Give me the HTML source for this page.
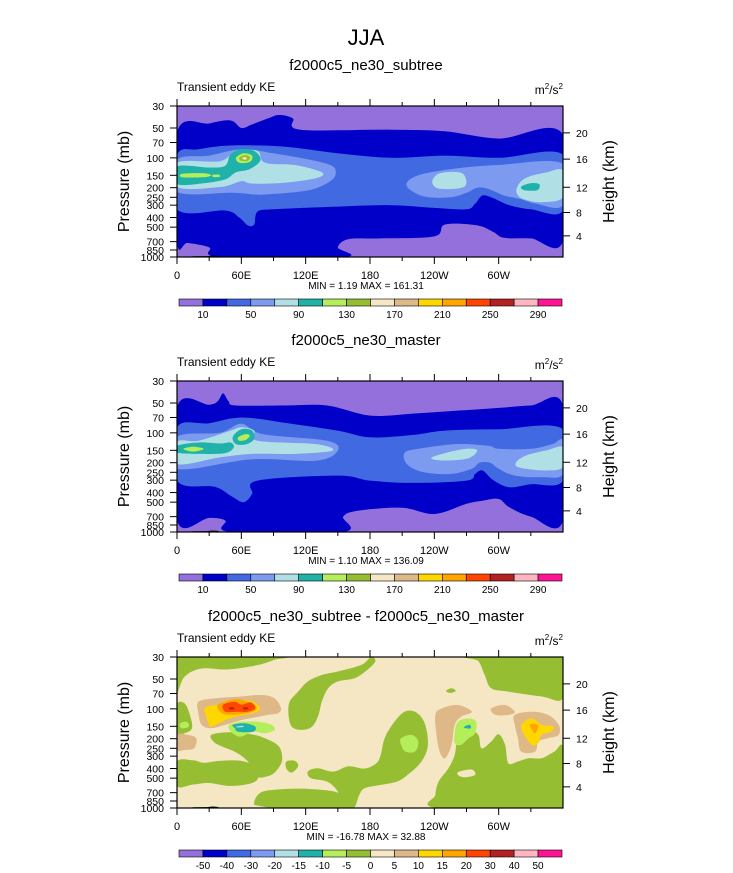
<!DOCTYPE html>
<html><head><meta charset="utf-8"><style>
html,body{margin:0;padding:0;background:#fff;}
svg{display:block;font-family:"Liberation Sans",Arial,sans-serif;}
</style></head><body>
<svg id="fig" width="733" height="873" viewBox="0 0 733 873" xmlns="http://www.w3.org/2000/svg">
<text x="366" y="45" font-size="22" text-anchor="middle">JJA</text>
</svg>
<script>
// ---------- data ----------
const colors=["#9370db","#0000c8","#4169e1","#7b9af0","#b0e0e6","#20b2aa","#b4ee5a","#96be32","#f5e6c4","#deb887","#ffd700","#ffa500","#ff4500","#b22222","#ffb6c1","#ff1493"];
const lonTicks=[0,60,120,180,240,300];
const lonLabels=["0","60E","120E","180","120W","60W"];
const lonMinor=[30,90,150,210,270,330];
const pTicks=[30,50,70,100,150,200,250,300,400,500,700,850,1000];
const hTickLabels=["4","8","12","16","20"];
const hTickP=[612,356,198,103,56];
const cbLabelsKE=["10","50","90","130","170","210","250","290"];
const cbLabelsDiff=["-50","-40","-30","-20","-15","-10","-5","0","5","10","15","20","30","40","50"];
const titles=["f2000c5_ne30_subtree","f2000c5_ne30_master","f2000c5_ne30_subtree - f2000c5_ne30_master"];
const minmax=["MIN =   1.19  MAX = 161.31","MIN =   1.10  MAX = 136.09","MIN = -16.78  MAX =  32.88"];

// panel 1 (subtree)
const p1Blue=[[0,55],[30,45],[50,42],[60,50],[70,46],[85,40],[95,37],[108,40],[115,52],[200,52],[250,54],[300,64],[360,58],[360,690],[330,650],[305,640],[295,560],[280,480],[250,470],[240,620],[190,650],[160,660],[150,800],[156,1000],[40,1000],[30,800],[10,720],[0,700]];
const p1Royal=[[0,94],[20,82],[50,75],[100,77],[150,90],[200,100],[250,95],[300,100],[360,93],[360,340],[330,330],[310,300],[295,255],[285,240],[278,290],[270,330],[240,320],[200,300],[150,310],[90,330],[75,350],[72,470],[66,480],[58,400],[45,340],[0,330]];
const p1CornL=[[0,105],[30,95],[60,82],[90,90],[140,115],[148,145],[140,180],[120,215],[80,235],[65,230],[50,225],[0,220]];
const p1CornR=[[214,190],[225,150],[260,128],[300,118],[360,115],[360,300],[335,290],[320,260],[305,240],[290,205],[280,200],[270,225],[255,250],[230,245]];
const p1CyanL=[[0,112],[40,108],[55,85],[75,85],[82,112],[110,118],[135,140],[130,160],[100,178],[70,182],[60,172],[40,197],[0,197]];
const p1CyanR1=[[238,175],[245,143],[266,143],[268,195],[245,205]];
const p1CyanR2=[[317,200],[325,160],[345,140],[360,135],[360,250],[340,280],[325,265],[318,240]];
const p1Teal=[[0,122],[30,125],[45,120],[50,92],[60,82],[72,85],[78,105],[68,130],[55,140],[45,165],[25,180],[0,183]];
const p1TealR=[[321,195],[330,180],[338,185],[336,212],[324,212]];
const p1Lg1=[[5,145],[25,143],[32,150],[25,157],[5,157]];
const p1Lg2=[[33,149],[39,148],[40,155],[34,156]];
const p1Lg3=[[55,100],[62,90],[70,95],[68,110],[58,112]];
const p1Olive=[[58,100],[63,94],[68,98],[66,107],[60,107]];
const p1Wheat=[[61,100],[64,98],[65,103],[62,104]];

// panel 2 (master)
const p2Blue=[[0,55],[30,52],[38,48],[43,40],[48,48],[55,53],[100,53],[140,53],[180,67],[220,64],[260,60],[300,56],[330,53],[360,53],[360,768],[330,700],[310,564],[300,465],[285,483],[270,520],[240,658],[210,570],[170,607],[155,700],[155,1000],[50,1000],[45,768],[30,720],[0,768]];
const p2Royal=[[0,88],[30,80],[60,70],[100,79],[150,95],[180,111],[220,105],[250,95],[300,92],[360,92],[360,303],[330,330],[310,354],[295,300],[285,240],[278,260],[270,303],[220,320],[180,303],[150,270],[75,303],[70,414],[62,500],[50,430],[35,350],[0,303]];
const p2CornL=[[0,110],[40,100],[60,81],[80,103],[140,120],[150,151],[130,191],[70,185],[0,230]];
const p2CornR=[[212,160],[225,145],[260,130],[290,135],[300,145],[330,145],[350,130],[360,120],[360,260],[340,280],[315,270],[300,230],[292,200],[282,200],[275,230],[255,260],[230,250],[215,210]];
const p2CyanL=[[0,123],[20,120],[50,95],[60,88],[72,95],[75,120],[130,130],[145,151],[110,163],[70,163],[40,177],[0,206]];
const p2CyanR1=[[237,180],[250,160],[270,145],[280,150],[272,180],[250,190]];
const p2CyanR2=[[316,200],[325,170],[345,150],[360,140],[360,220],[345,240],[320,225]];
const p2Teal1=[[0,135],[20,125],[40,128],[50,125],[53,140],[45,160],[20,163],[0,158]];
const p2Teal2=[[52,110],[60,92],[70,95],[72,115],[65,130],[55,130]];
const p2Lg1=[[6,145],[15,138],[25,145],[15,155]];
const p2Lg2=[[57,111],[64,103],[68,107],[64,118],[58,120]];

// panel 3 (difference)
const d3Olive1=[[0,30],[97,30],[91,32],[76,36],[48,40],[26,39],[14,42],[6,49],[2,62],[0,67]];
const d3Finger=[[181,30],[172,36],[150,42],[135,45.6],[122,53],[113,67],[105,85],[104,115],[107,151],[116,163],[126,151],[132,115],[135,85],[141,62],[150,53],[166,49],[178,40],[185,33]];
const d3Olive3=[[272,30],[360,30],[360,78],[340,75],[309,67],[293,62],[287,45.6],[281,33]];
const d3Island=[[0,91],[7,88],[12,115],[14,157],[7,176],[0,176]];
const d3Spot=[[251,66],[256,62],[260,66],[255,69]];
const d3UnderBlob=[[32,183],[48,172],[69,180],[82,198],[95,240],[98,330],[92,429],[84,480],[74,480],[66,340],[55,275],[42,240],[34,214]];
const d3LowLeft=[[0,340],[15,330],[25,350],[40,335],[60,335],[72,380],[76,480],[70,560],[50,600],[30,560],[15,580],[0,600]];
const d3BottomMid=[[78,700],[95,650],[120,640],[150,700],[156,900],[150,1000],[80,1000],[72,900]];
const d3MidCol=[[195,183],[210,111],[222,107],[231,140],[234,231],[228,340],[215,464],[205,542],[190,585],[175,632],[170,737],[165,1000],[155,1000],[150,683],[140,542],[125,500],[122,429],[131,397],[146,429],[160,380],[175,400],[186,353],[190,292]];
const d3Small=[[102,340],[110,335],[113,380],[107,440],[102,400]];
const d3Right=[[243,1000],[241,737],[244,542],[253,400],[259,292],[262,198],[272,163],[281,183],[284,250],[293,214],[300,180],[306,231],[309,353],[318,340],[328,315],[340,315],[352,270],[360,250],[360,1000]];
const d3Hole=[[263,429],[275,410],[278,464],[268,490],[262,464]];
const d3BottomLeft=[[0,900],[20,880],[60,900],[78,960],[78,1000],[0,1000]];
const d3TanBlob=[[20,85],[35,78.5],[60,75],[79,72.5],[91,78.5],[97,99],[94,111],[85,115],[76,120],[60,130],[45,145],[32,157],[23,145],[20,111]];
const d3Gold=[[26,99],[38,91],[48,85],[66,82],[75,91],[77,103],[70,111],[54,120],[45,130],[32,151],[29,135]];
const d3Orange=[[38,91.4],[54,80],[66,85],[74,95],[71,107],[54,115],[42,111]];
const d3Red=[[43,91],[54,85],[60,91],[69,86],[73,99],[66,107],[56,107],[45,107]];
const d3Dark1=[[49,97],[53,97],[53,101],[49,101]];
const d3Dark2=[[62,97],[66,97],[66,101],[62,101]];
const d3Lg=[[49,145],[60,135],[76,135],[88,145],[91,163],[82,176],[71,170],[60,190],[54,183],[49,163]];
const d3Teal=[[52,145],[63,140],[73,151],[71,170],[57,170],[54,157]];
const d3Cyan=[[55,151],[61,148],[62,152],[57,154]];
const d3TanLeft=[[0,183],[10,183],[18,198],[16,250],[7,260],[0,260]];
const d3LgLeft=[[3,140],[9,135],[11,151],[4,157]];
const d3TanR1=[[241,115],[247,99],[262,91.4],[275,107],[265,120],[259,145],[256,231],[250,315],[245,270],[242,183]];
const d3TanR2=[[293,99],[306,91.4],[315,107],[309,115],[297,115]];
const d3TanR3=[[315,115],[331,107],[346,115],[356,145],[356,183],[346,198],[337,214],[334,270],[321,270],[318,198],[315,145]];
const d3GoldR=[[321,145],[331,125],[340,145],[351,151],[349,170],[340,183],[337,222],[331,231],[324,183]];
const d3OrangeR=[[329,145],[337,145],[334,176]];
const d3LgR=[[259,176],[262,135],[272,125],[279,135],[278,176],[272,198],[265,231],[259,222]];
const d3TealR=[[268,151],[273,145],[274,157],[269,157]];
const d3LgMid=[[209,198],[219,183],[225,214],[222,270],[213,270],[209,231]];

const ground=[[12,1000],[15,985],[28,980],[33,965],[38,975],[40,1000]];
const ground2=[[272,1000],[274,990],[300,990],[302,1000]];

const panels=[
 {top:106,bg:0,layers:[[p1Blue,1],[p1Royal,2],[p1CornL,3],[p1CornR,3],[p1CyanL,4],[p1CyanR1,4],[p1CyanR2,4],[p1Teal,5],[p1TealR,5],[p1Lg1,6],[p1Lg2,6],[p1Lg3,6],[p1Olive,7],[p1Wheat,8]],cb:cbLabelsKE},
 {top:381,bg:0,layers:[[p2Blue,1],[p2Royal,2],[p2CornL,3],[p2CornR,3],[p2CyanL,4],[p2CyanR1,4],[p2CyanR2,4],[p2Teal1,5],[p2Teal2,5],[p2Lg1,6],[p2Lg2,6]],cb:cbLabelsKE},
 {top:657,bg:8,layers:[[d3Olive1,7],[d3Finger,7],[d3Olive3,7],[d3Island,7],[d3Spot,7],[d3UnderBlob,7],[d3LowLeft,7],[d3BottomMid,7],[d3MidCol,7],[d3Small,7],[d3Right,7],[d3Hole,8],[d3BottomLeft,8],[d3TanBlob,9],[d3Gold,10],[d3Orange,11],[d3Red,12],[d3Dark1,13],[d3Dark2,13],[d3Lg,6],[d3Teal,5],[d3Cyan,4],[d3TanLeft,9],[d3LgLeft,6],[d3TanR1,9],[d3TanR2,9],[d3TanR3,9],[d3GoldR,10],[d3OrangeR,11],[d3LgR,6],[d3TealR,5],[d3LgMid,6]],cb:cbLabelsDiff}
];

// ---------- drawing ----------
const NS="http://www.w3.org/2000/svg";
const svg=document.getElementById('fig');
const L=177,W=386,H=151;
const X=lon=>L+lon/360*W;
const Yf=top=>p=>top+Math.log(Math.max(30,Math.min(1000,p))/30)/Math.log(1000/30)*H;
function el(tag,attrs,parent){const e=document.createElementNS(NS,tag);for(const k in attrs)e.setAttribute(k,attrs[k]);(parent||svg).appendChild(e);return e;}
function smoothPath(pts){
 const n=pts.length;let d=`M${pts[0][0].toFixed(1)},${pts[0][1].toFixed(1)}`;
 for(let i=0;i<n;i++){const p0=pts[(i-1+n)%n],p1=pts[i],p2=pts[(i+1)%n],p3=pts[(i+2)%n];
  const c1=[p1[0]+(p2[0]-p0[0])/6,p1[1]+(p2[1]-p0[1])/6],c2=[p2[0]-(p3[0]-p1[0])/6,p2[1]-(p3[1]-p1[1])/6];
  d+=`C${c1[0].toFixed(1)},${c1[1].toFixed(1)} ${c2[0].toFixed(1)},${c2[1].toFixed(1)} ${p2[0].toFixed(1)},${p2[1].toFixed(1)}`;}
 return d+'Z';}

panels.forEach((pn,pi)=>{
 const top=pn.top,Y=Yf(top);
 const g=el('g',{});
 
 
 const t=el('text',{x:366,y:top-36,'font-size':15,'text-anchor':'middle'},g);t.textContent=titles[pi];
 
 
 const lt=el('text',{x:177,y:top-15,'font-size':12},g);lt.textContent='Transient eddy KE';
 
 
 const ut=el('text',{x:563,y:top-12,'font-size':12,'text-anchor':'end'},g);
 ut.innerHTML='m<tspan dy="-5" font-size="8">2</tspan><tspan dy="5">/s</tspan><tspan dy="-5" font-size="8">2</tspan>';
 
 
 const clipId='clip'+pi;
 const cp=el('clipPath',{id:clipId},g);el('rect',{x:L,y:top,width:W,height:H},cp);
 const plot=el('g',{'clip-path':`url(#${clipId})`},g);
 
 
 const bg=el('rect',{x:L,y:top,width:W,height:H,fill:colors[pn.bg]},plot);
 
 
 pn.layers.forEach(([pts,ci])=>{
  const pix=pts.map(([lon,p])=>[X(lon),Y(p)]);
  const path=el('path',{d:smoothPath(pix),fill:colors[ci]},plot);
  
  
 });
 [ground,ground2].forEach(gp=>{
  const path=el('path',{d:'M'+gp.map(([lon,p])=>X(lon).toFixed(1)+','+Y(p).toFixed(1)).join('L')+'Z',fill:'#000'},plot);
  
  
 });
 const fr=el('rect',{x:L,y:top,width:W,height:H,fill:'none',stroke:'#000','stroke-width':1.2},g);
 
 
 lonTicks.forEach((lon,i)=>{
  el('line',{x1:X(lon),x2:X(lon),y1:top,y2:top-7,stroke:'#000'},g);
  el('line',{x1:X(lon),x2:X(lon),y1:top+H,y2:top+H+7,stroke:'#000'},g);
  const tx=el('text',{x:X(lon),y:top+H+22,'font-size':11,'text-anchor':'middle'},g);tx.textContent=lonLabels[i];
  
  
 });
 lonMinor.forEach(lon=>{
  el('line',{x1:X(lon),x2:X(lon),y1:top,y2:top-4,stroke:'#000'},g);
  el('line',{x1:X(lon),x2:X(lon),y1:top+H,y2:top+H+4,stroke:'#000'},g);
 });
 pTicks.forEach(p=>{
  el('line',{x1:L,x2:L-7,y1:Y(p),y2:Y(p),stroke:'#000'},g);
  const tx=el('text',{x:L-13,y:Y(p)+4,'font-size':10.5,'text-anchor':'end'},g);tx.textContent=p;
  
  
 });
 hTickP.forEach((p,i)=>{
  el('line',{x1:L+W,x2:L+W+7,y1:Y(p),y2:Y(p),stroke:'#000'},g);
  const tx=el('text',{x:L+W+13,y:Y(p)+4,'font-size':10.5},g);tx.textContent=hTickLabels[i];
  
  
 });
 const yt=el('text',{x:0,y:0,'font-size':16,'text-anchor':'middle',transform:`translate(129,${top+H/2}) rotate(-90)`},g);yt.textContent='Pressure (mb)';
 
 
 const ht=el('text',{x:0,y:0,'font-size':16,'text-anchor':'middle',transform:`translate(614,${top+H/2}) rotate(-90)`},g);ht.textContent='Height (km)';
 
 
 const mm=el('text',{x:366,y:top+H+32,'font-size':10,'text-anchor':'middle','xml:space':'preserve'},g);mm.textContent=minmax[pi];
 
 
 const cy=top+193,cx=179,cw=383/16;
 const cbg=el('g',{},g);
 
 
 colors.forEach((c,i)=>{
  const r=el('rect',{x:cx+i*cw,y:cy,width:cw,height:7,fill:c,stroke:'#000','stroke-width':0.6},cbg);
  
  
 });
 const labs=pn.cb,step=labs.length===8?2:1;
 labs.forEach((s,i)=>{
  const b=1+i*step;
  const tx=el('text',{x:cx+b*cw,y:cy+19,'font-size':10,'text-anchor':'middle'},cbg);tx.textContent=s;
  
  
 });
});
</script>
</body></html>
